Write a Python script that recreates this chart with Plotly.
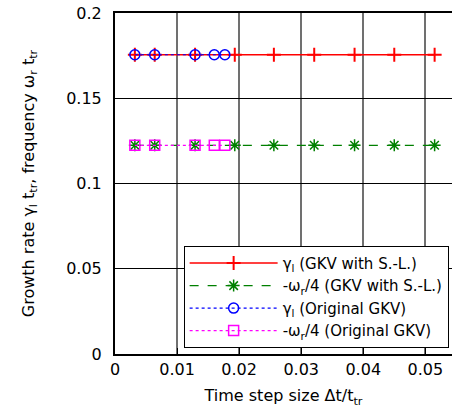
import plotly.graph_objects as go

# Data
x_sl = [0.0032, 0.0064, 0.0129, 0.0193, 0.0256, 0.0321, 0.0386, 0.0450, 0.0515]
gamma_sl = [0.1755] * len(x_sl)
omega_sl = [0.1224] * len(x_sl)

x_orig = [0.0032, 0.0064, 0.0129, 0.0160, 0.0177]
gamma_orig = [0.1755] * len(x_orig)
omega_orig = [0.1224] * len(x_orig)

x_ticks = [0, 0.01, 0.02, 0.03, 0.04, 0.05]
x_ticklabels = ["0", "0.01", "0.02", "0.03", "0.04", "0.05"]
y_ticks = [0, 0.05, 0.1, 0.15, 0.2]
y_ticklabels = ["0", "0.05", "0.1", "0.15", "0.2"]

FONT = "DejaVu Sans, Liberation Sans, Arial, sans-serif"

fig = go.Figure()
fig.add_trace(go.Scatter(
    x=x_sl, y=gamma_sl, mode="lines+markers",
    name="γ<sub>l</sub> (GKV with S.-L.)",
    line=dict(color="#ff0000", width=1.5),
    marker=dict(symbol="cross-thin-open", size=10, line=dict(color="#ff0000", width=2)),
))
fig.add_trace(go.Scatter(
    x=x_sl, y=omega_sl, mode="lines+markers",
    name="-ω<sub>r</sub>/4 (GKV with S.-L.)",
    line=dict(color="#008000", width=1.2, dash="dash"),
    marker=dict(symbol="asterisk-open", size=10, line=dict(color="#008000", width=1.5)),
))
fig.add_trace(go.Scatter(
    x=x_orig, y=gamma_orig, mode="lines+markers",
    name="γ<sub>l</sub> (Original GKV)",
    line=dict(color="#0000ff", width=1.2, dash="3px,3px"),
    marker=dict(symbol="circle-open", size=10, line=dict(color="#0000ff", width=1.5)),
))
fig.add_trace(go.Scatter(
    x=x_orig, y=omega_orig, mode="lines+markers",
    name="-ω<sub>r</sub>/4 (Original GKV)",
    line=dict(color="#ff00ff", width=1.2, dash="dot"),
    marker=dict(symbol="square-open", size=10, line=dict(color="#ff00ff", width=1.5)),
))

fig.update_layout(
    width=452, height=419,
    margin=dict(l=115, r=0, t=13, b=65),
    paper_bgcolor="white", plot_bgcolor="white",
    font=dict(family=FONT, size=16, color="black"),
    showlegend=True,
    legend=dict(
        x=0.99, y=0.018, xanchor="right", yanchor="bottom",
        bgcolor="white", bordercolor="black", borderwidth=1,
        font=dict(family=FONT, size=15, color="black"),
        tracegroupgap=0, itemwidth=88,
    ),
)
fig.update_xaxes(
    range=[0, 0.0543], automargin=False,
    tickvals=x_ticks, ticktext=x_ticklabels,
    showgrid=True, gridcolor="#707070", gridwidth=1.5,
    showline=True, linecolor="black", linewidth=2, mirror=True,
    ticks="inside", ticklen=6, tickcolor="black",
    zeroline=False, ticklabeloverflow="allow",
    title=dict(text="Time step size Δt/t<sub>tr</sub>", standoff=12,
               font=dict(family=FONT, size=16)),
    tickfont=dict(family=FONT, size=16),
)
fig.update_yaxes(
    range=[0, 0.2], automargin=False,
    tickvals=y_ticks, ticktext=y_ticklabels,
    showgrid=True, gridcolor="black", gridwidth=1,
    showline=True, linecolor="black", linewidth=2, mirror=False,
    ticks="", zeroline=False, ticklabeloverflow="allow",
    ticklabelstandoff=8,
    title=dict(text="Growth rate γ<sub>l</sub> t<sub>tr</sub>, frequency ω<sub>r</sub> t<sub>tr</sub>",
               standoff=28, font=dict(family=FONT, size=16)),
    tickfont=dict(family=FONT, size=16),
)

# Remove the default page margin so the figure sits at the window's corner.
fig.write_html("out.html", config={"displayModeBar": False},
               post_script="document.body.style.margin='0';")
